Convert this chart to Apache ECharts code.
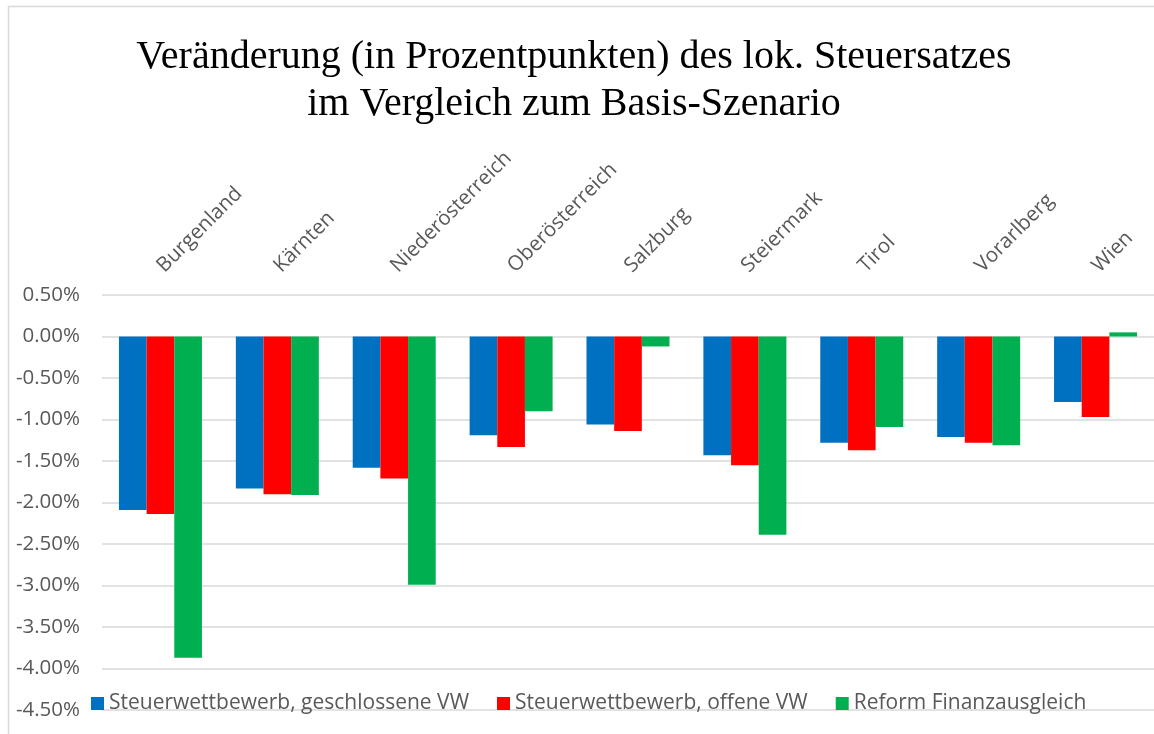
<!DOCTYPE html>
<html>
<head>
<meta charset="utf-8">
<title>Steuersatz</title>
<script src="https://cdn.jsdelivr.net/npm/echarts@6/dist/echarts.min.js"></script>
<style>
  html, body { margin: 0; padding: 0; background: #fff; }
  #chart { width: 1154px; height: 734px; }
</style>
</head>
<body>
<div id="chart"></div>
<script>
// Bundesländer
const categories = ['Burgenland', 'Kärnten', 'Niederösterreich', 'Oberösterreich', 'Salzburg',
  'Steiermark', 'Tirol', 'Vorarlberg', 'Wien'];

// Veränderung in Prozentpunkten
const geschlossen = [-2.09, -1.83, -1.58, -1.19, -1.06, -1.43, -1.28, -1.21, -0.79];
const offen = [-2.14, -1.90, -1.71, -1.33, -1.14, -1.55, -1.37, -1.28, -0.97];
const reform = [-3.87, -1.91, -2.99, -0.90, -0.12, -2.39, -1.09, -1.31, 0.05];

const seriesNames = ['Steuerwettbewerb, geschlossene VW', 'Steuerwettbewerb, offene VW', 'Reform Finanzausgleich'];
const titleLines = ['Veränderung (in Prozentpunkten) des lok. Steuersatzes', 'im Vergleich zum Basis-Szenario'];
const colors = ['#0070C0', '#FF0000', '#00B050'];

const font = '"Open Sans", Lato, sans-serif';
const titleStyle = {
  fontFamily: '"Liberation Serif", "DejaVu Serif", serif',
  fontWeight: 'normal',
  fontSize: 40,
  color: '#000'
};

const chart = echarts.init(document.getElementById('chart'));

const option = {
  animation: false,
  color: colors,
  title: [
    { text: titleLines[0], left: 569, textAlign: 'center', top: 32, textStyle: titleStyle },
    { text: titleLines[1], left: 569, textAlign: 'center', top: 79, textStyle: titleStyle }
  ],
  // Rahmen des Diagrammbereichs
  graphic: [{
    type: 'rect',
    shape: { x: 8.5, y: 6.5, width: 1200, height: 800 },
    style: { fill: 'none', stroke: '#d9d9d9', lineWidth: 1.5 },
    silent: true
  }],
  legend: {
    left: 86,
    top: 688,
    itemWidth: 13,
    itemHeight: 13,
    itemGap: 28,
    icon: 'rect',
    textStyle: { fontFamily: font, fontSize: 21, color: '#595959' },
    data: seriesNames
  },
  grid: {
    left: 102,
    right: -2,
    top: 295,
    bottom: 24,
    containLabel: false
  },
  xAxis: {
    type: 'category',
    position: 'top',
    data: categories,
    axisLine: { show: false, onZero: false },
    axisTick: { show: false },
    axisLabel: {
      rotate: -45,
      margin: 26,
      fontFamily: font,
      fontSize: 20.5,
      color: '#595959'
    }
  },
  yAxis: {
    type: 'value',
    min: -4.5,
    max: 0.5,
    interval: 0.5,
    axisLine: { show: false },
    axisTick: { show: false },
    axisLabel: {
      margin: 22,
      fontFamily: font,
      fontSize: 20.5,
      color: '#595959',
      formatter: function (v) {
        return v.toFixed(2) + '%';
      }
    },
    splitLine: { lineStyle: { color: '#d9d9d9', width: 1.5 } }
  },
  series: [
    { name: seriesNames[0], type: 'bar', data: geschlossen, barGap: '0%', barCategoryGap: '29%' },
    { name: seriesNames[1], type: 'bar', data: offen, barGap: '0%', barCategoryGap: '29%' },
    { name: seriesNames[2], type: 'bar', data: reform, barGap: '0%', barCategoryGap: '29%' }
  ]
};

chart.setOption(option);
</script>
</body>
</html>
